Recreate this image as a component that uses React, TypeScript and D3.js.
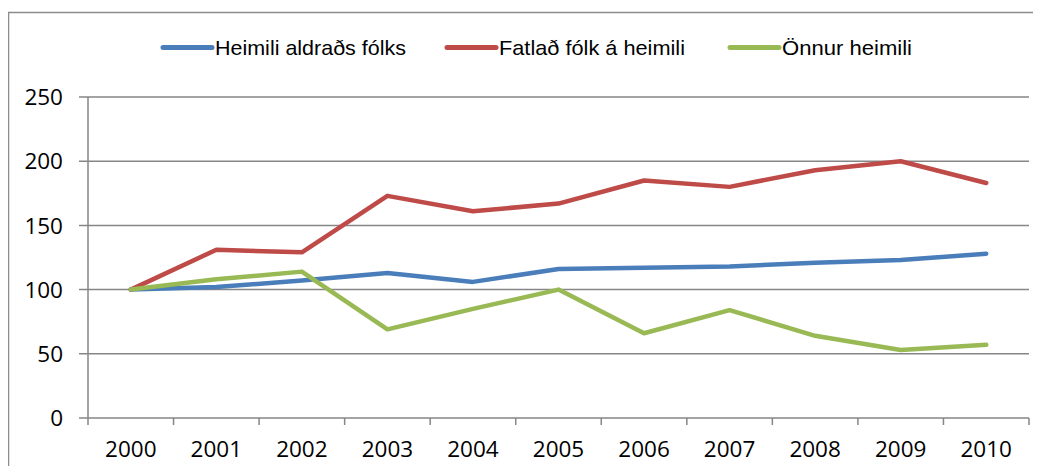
import React, { useRef, useEffect } from 'react';
import * as d3 from 'd3';

const years = ['2000', '2001', '2002', '2003', '2004', '2005', '2006', '2007', '2008', '2009', '2010'];
const seriesNames = ['Heimili aldraðs fólks', 'Fatlað fólk á heimili', 'Önnur heimili'];
const heimiliAldrads = [100, 102, 107, 113, 106, 116, 117, 118, 121, 123, 128];
const fatladFolk = [100, 131, 129, 173, 161, 167, 185, 180, 193, 200, 183];
const onnurHeimili = [100, 108, 114, 69, 85, 100, 66, 84, 64, 53, 57];
const yTicks = [0, 50, 100, 150, 200, 250];
const colors = ['#4A7EBB', '#BE4B48', '#98B954'];

const App = () => {
  const svgRef = useRef<SVGSVGElement>(null);

  useEffect(() => {
    const w = 1041;
    const h = 474;
    const svg = d3.select(svgRef.current);
    svg.selectAll('*').remove();
    svg.attr('width', w).attr('height', h).style('display', 'block');

    // outer chart border (runs off the right/bottom of the picture)
    svg.append('rect')
      .attr('x', 8.5).attr('y', 12.5)
      .attr('width', w + 20).attr('height', h + 20)
      .attr('fill', '#fff').attr('stroke', '#8c8c8c').attr('stroke-width', 1.5);

    const left = 88;
    const right = 1029;
    const top = 97;
    const bottom = 418;

    const x = d3.scaleBand().domain(years).range([left, right]);
    const y = d3.scaleLinear().domain([0, 250]).range([bottom, top]);

    const font = '"Open Sans", sans-serif';

    // gridlines
    svg.append('g')
      .selectAll('line')
      .data(yTicks)
      .join('line')
      .attr('x1', left - 9).attr('x2', right)
      .attr('y1', (d) => y(d)).attr('y2', (d) => y(d))
      .attr('stroke', '#868686').attr('stroke-width', 1.5);

    // y axis line
    svg.append('line')
      .attr('x1', left).attr('x2', left)
      .attr('y1', top).attr('y2', bottom)
      .attr('stroke', '#868686').attr('stroke-width', 1.5);

    // y tick labels
    svg.append('g')
      .selectAll('text')
      .data(yTicks)
      .join('text')
      .attr('x', 63).attr('y', (d) => y(d))
      .attr('dy', '0.36em')
      .attr('text-anchor', 'end')
      .attr('font-family', font).attr('font-size', 22.5)
      .attr('fill', '#000')
      .text((d) => d);

    // x tick marks at band edges
    const edges = years.map((yr) => x(yr) as number).concat([right]);
    svg.append('g')
      .selectAll('line')
      .data(edges)
      .join('line')
      .attr('x1', (d) => d).attr('x2', (d) => d)
      .attr('y1', bottom).attr('y2', bottom + 7)
      .attr('stroke', '#868686').attr('stroke-width', 1.5);

    // x labels
    svg.append('g')
      .selectAll('text')
      .data(years)
      .join('text')
      .attr('x', (d) => (x(d) as number) + x.bandwidth() / 2)
      .attr('y', 449)
      .attr('dy', '0.36em')
      .attr('text-anchor', 'middle')
      .attr('font-family', font).attr('font-size', 22.5)
      .attr('fill', '#000')
      .text((d) => d);

    // lines
    const line = d3.line<number>()
      .x((d, i) => (x(years[i]) as number) + x.bandwidth() / 2)
      .y((d) => y(d));

    const allSeries = [heimiliAldrads, fatladFolk, onnurHeimili];
    svg.append('g')
      .selectAll('path')
      .data(allSeries)
      .join('path')
      .attr('d', (d) => line(d))
      .attr('fill', 'none')
      .attr('stroke', (d, i) => colors[i])
      .attr('stroke-width', 4.5)
      .attr('stroke-linejoin', 'round')
      .attr('stroke-linecap', 'round');

    // legend
    const legendX = [163, 447, 730];
    const legendTextW = [191, 186, 130];
    const lg = svg.append('g')
      .selectAll('g')
      .data(seriesNames)
      .join('g')
      .attr('transform', (d, i) => `translate(${legendX[i]},47.5)`);
    lg.append('line')
      .attr('x1', 0).attr('x2', 49)
      .attr('y1', 0).attr('y2', 0)
      .attr('stroke', (d, i) => colors[i])
      .attr('stroke-width', 5)
      .attr('stroke-linecap', 'round');
    lg.append('text')
      .attr('x', 52).attr('y', 0)
      .attr('dy', '0.36em')
      .attr('font-family', '"Liberation Sans Narrow", "Liberation Sans", sans-serif')
      .attr('font-size', 21)
      .attr('textLength', (d, i) => legendTextW[i])
      .attr('lengthAdjust', 'spacingAndGlyphs')
      .attr('fill', '#000')
      .text((d) => d);
  }, []);

  return (
    <div style={{ margin: -8 }}>
      <svg ref={svgRef}></svg>
    </div>
  );
};

export default App;
